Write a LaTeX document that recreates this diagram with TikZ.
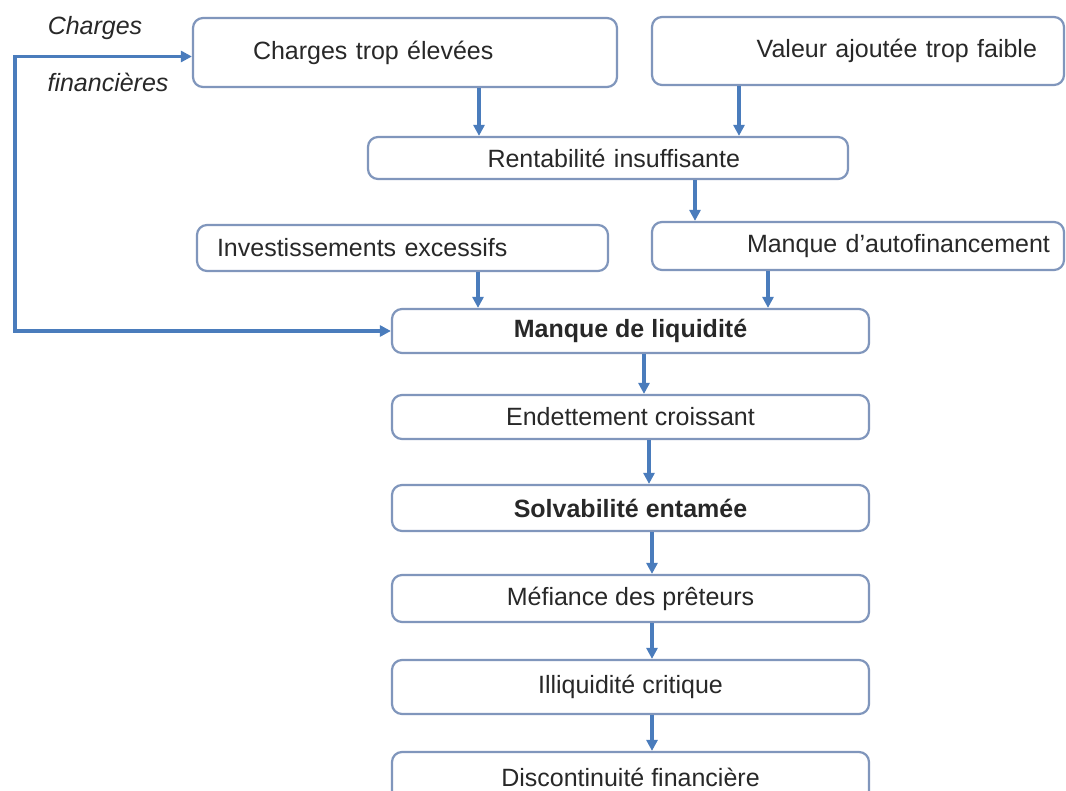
\documentclass[tikz,border=0pt]{standalone}
\usepackage{fontspec}
\setmainfont{Liberation Sans}
\usetikzlibrary{arrows.meta}
\definecolor{boxline}{RGB}{128,150,188}
\definecolor{arrowblue}{RGB}{74,124,188}
\definecolor{txtgray}{RGB}{40,40,40}
\tikzset{
  x=1pt, y=1pt,
  box/.style={draw=boxline, line width=2.2pt, rounded corners=10pt, fill=white,
    text=txtgray, font=\fontsize{25}{30}\selectfont, inner ysep=0pt, anchor=center},
  flow/.style={draw=arrowblue, line width=3.4pt, -{Triangle[length=11pt,width=11pt]}},
  side/.style={text=txtgray, font=\fontsize{25}{30}\selectfont\itshape, inner sep=0pt}
}
\begin{document}
\begin{tikzpicture}
\useasboundingbox[fill=white] (0,0) rectangle (1066,-791);
% top row
\node[box, minimum width=424pt, minimum height=69pt, inner xsep=60pt, text width=304pt, align=left] (ch) at (405,-52.5) {Charges trop élevées};
\node[box, minimum width=412pt, minimum height=68pt, inner xsep=27pt, text width=358pt, align=right] (va) at (858,-51) {Valeur ajoutée trop faible};
\node[box, minimum width=480pt, minimum height=42pt, inner xsep=108pt, text width=264pt, align=right] (rent) at (608,-158) {Rentabilité insuffisante};
\node[box, minimum width=411pt, minimum height=46pt, inner xsep=20pt, text width=371pt, align=left] (inv) at (402.5,-248) {Investissements excessifs};
\node[box, minimum width=412pt, minimum height=48pt, inner xsep=14pt, text width=384pt, align=right] (ma) at (858,-246) {Manque d'autofinancement};
% chain
\node[box, minimum width=477pt, minimum height=44pt, font=\fontsize{25}{30}\selectfont\bfseries] (liq) at (630.5,-331) {Manque de liquidité};
\node[box, minimum width=477pt, minimum height=44pt] (end) at (630.5,-417) {Endettement croissant};
\node[box, minimum width=477pt, minimum height=46pt, font=\fontsize{25}{30}\selectfont\bfseries] (sol) at (630.5,-508) {Solvabilité entamée};
\node[box, minimum width=477pt, minimum height=47pt] (mef) at (630.5,-598.5) {Méfiance des prêteurs};
\node[box, minimum width=477pt, minimum height=54pt] (ill) at (630.5,-687) {Illiquidité critique};
\node[box, minimum width=477pt, minimum height=50pt] (dis) at (630.5,-777) {Discontinuité financière};
% side labels
\node[side] (lab1) at (95,-28) {Charges};
\node[side] (lab2) at (108,-82) {financières};
% arrows
\draw[flow] ([xshift=74pt]ch.south) -- ([xshift=-129pt]rent.north);
\draw[flow] ([xshift=-119pt]va.south) -- ([xshift=131pt]rent.north);
\draw[flow] ([xshift=87pt]rent.south) -- ([xshift=-163pt]ma.north);
\draw[flow] ([xshift=75.5pt]inv.south) -- ([xshift=-152.5pt]liq.north);
\draw[flow] ([xshift=-90pt]ma.south) -- ([xshift=137.5pt]liq.north);
\draw[flow] ([xshift=13.5pt]liq.south) -- ([xshift=13.5pt]end.north);
\draw[flow] ([xshift=18.5pt]end.south) -- ([xshift=18.5pt]sol.north);
\draw[flow] ([xshift=21.5pt]sol.south) -- ([xshift=21.5pt]mef.north);
\draw[flow] ([xshift=21.5pt]mef.south) -- ([xshift=21.5pt]ill.north);
\draw[flow] ([xshift=21.5pt]ill.south) -- ([xshift=21.5pt]dis.north);
% feedback line
\coordinate (corner) at (15,-200);
\draw[flow, {Triangle[length=11pt,width=11pt]}-{Triangle[length=11pt,width=11pt]}]
  ([yshift=-4pt]ch.west) -| (corner) |- (liq.west);
\end{tikzpicture}
\end{document}
